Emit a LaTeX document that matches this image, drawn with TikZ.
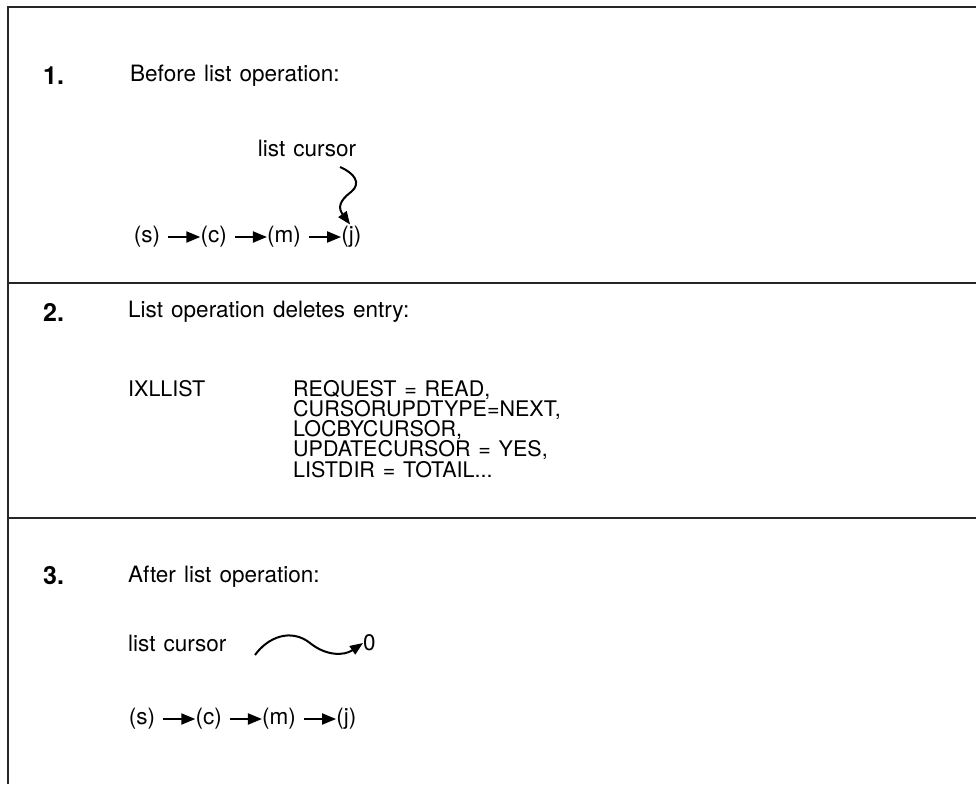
\documentclass[tikz,border=0pt]{standalone}
\usepackage{fontspec}
\setmainfont{TeX Gyre Heros}[WordSpace={1.3,1,1}]
\usetikzlibrary{arrows.meta,positioning}

\begin{document}
\begin{tikzpicture}[
  x=1pt, y=-1pt,
  txt/.style={inner sep=0pt, anchor=west, font=\fontsize{22.5}{24}\selectfont},
  num/.style={inner sep=0pt, anchor=west, font=\fontsize{25}{26}\selectfont\bfseries},
  code/.style={inner sep=0pt, anchor=north west, align=left,
               font=\fontsize{21.5}{17.8}\selectfont},
  item/.style={inner sep=0pt, font=\fontsize{22.5}{24}\selectfont},
  frame/.style={line width=2.6pt, black!85},
  chainarr/.style={-{Triangle[length=14pt,width=11pt]}, line width=2pt,
                   shorten <=8pt},
  curlarr/.style={-{Triangle[length=13pt,width=10pt]}, line width=2pt},
]
  \useasboundingbox (0,0) rectangle (976,784);
  %% Frame: top and left edge, two dividers
  \coordinate (tl) at (8,7);
  \coordinate (bl) at (8,784);
  \coordinate (tr) at (976,7);
  \draw[frame] (tr) -- (tl) -- (bl);
  \draw[frame] (8,283) -- (976,283);
  \draw[frame] (8,518) -- (976,518);

  %% Step 1
  \node[num] (n1) at (43,76) {1.};
  \node[txt] (t1) at (130,76) {Before list operation:};
  \node[item] (lc1) at (307,148) {list cursor};
  \node[item] (s1) at (147,237) {(s)};
  \node[item, right=40pt of s1] (c1) {(c)};
  \node[item, right=40pt of c1] (m1) {(m)};
  \node[item, right=40pt of m1] (j1) {(j)};
  \draw[chainarr] (s1) -- (c1);
  \draw[chainarr] (c1) -- (m1);
  \draw[chainarr] (m1) -- (j1);
  \coordinate (cur1) at (340,167);
  \draw[curlarr, shorten >=2pt] (cur1)
    .. controls (354,173) and (362,183) .. (351,192)
    .. controls (339,201) and (338,208) .. (j1.north);

  %% Step 2
  \node[num] (n2) at (43,312) {2.};
  \node[txt] (t2) at (128,312) {List operation deletes entry:};
  \node[code] (ixl) at (128,380) {IXLLIST};
  \node[code] (req) at (293,380) {REQUEST = READ,\\
    CURSORUPDTYPE=NEXT,\\
    LOCBYCURSOR,\\
    UPDATECURSOR = YES,\\
    LISTDIR = TOTAIL...};

  %% Step 3
  \node[num] (n3) at (43,576) {3.};
  \node[txt] (t3) at (128,577) {After list operation:};
  \node[txt] (lc3) at (128,643) {list cursor};
  \node[txt] (zero) at (363,643) {0};
  \coordinate (cur3) at (255,655);
  \draw[curlarr] (cur3)
    .. controls (268,637) and (291,628) .. (310,643)
    .. controls (326,656) and (344,656) .. (zero.west);
  \node[item] (s3) at (142,719) {(s)};
  \node[item, right=40pt of s3] (c3) {(c)};
  \node[item, right=40pt of c3] (m3) {(m)};
  \node[item, right=40pt of m3] (j3) {(j)};
  \draw[chainarr] (s3) -- (c3);
  \draw[chainarr] (c3) -- (m3);
  \draw[chainarr] (m3) -- (j3);
\end{tikzpicture}
\end{document}
